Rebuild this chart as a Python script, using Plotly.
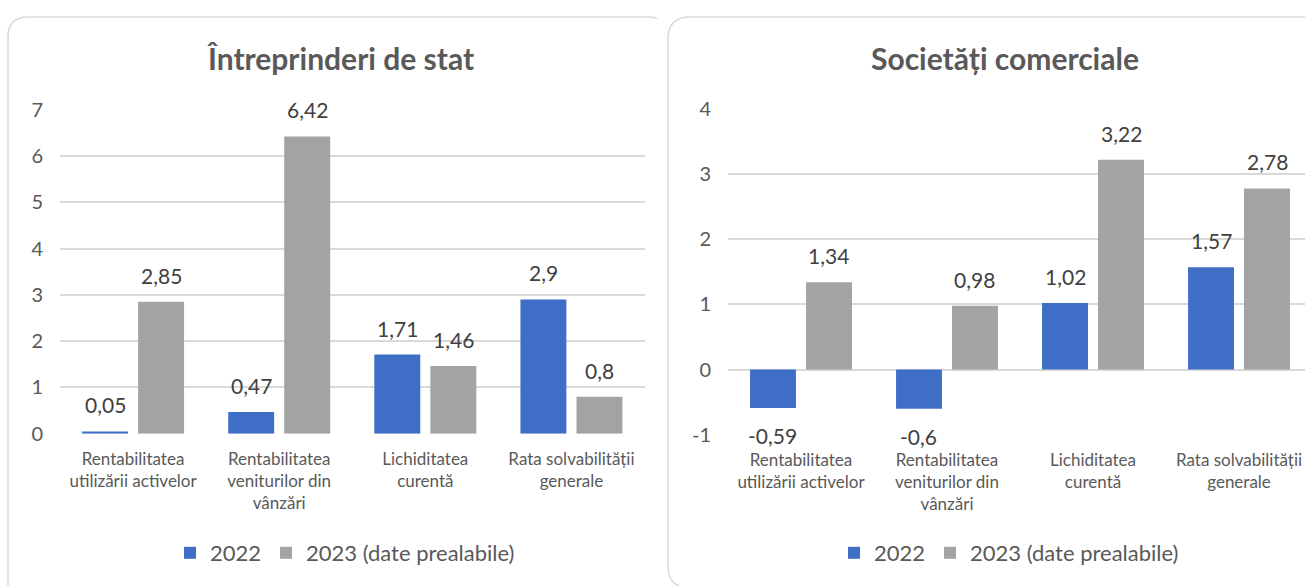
import plotly.graph_objects as go

categories = [
    "Rentabilitatea<br>utilizării activelor",
    "Rentabilitatea<br>veniturilor din<br>vânzări",
    "Lichiditatea<br>curentă",
    "Rata solvabilității<br>generale",
]
series_names = ["2022", "2023 (date prealabile)"]
stat_2022 = [0.05, 0.47, 1.71, 2.9]
stat_2023 = [2.85, 6.42, 1.46, 0.8]
com_2022 = [-0.59, -0.6, 1.02, 1.57]
com_2023 = [1.34, 0.98, 3.22, 2.78]
titles = ["Întreprinderi de stat", "Societăți comerciale"]
left_ticks = [0, 1, 2, 3, 4, 5, 6, 7]
right_ticks = [-1, 0, 1, 2, 3, 4]

W, H = 1305, 586
FONT = "Lato"
BLUE = "#3F6EC7"
GRAY = "#A3A3A3"
TXT = "#595959"
LBL = "#404040"
GRID = "#D9D9D9"


def px(x):
    return x / W


def py(y):
    return 1 - y / H


fig = go.Figure()

panels = [
    dict(xa="x", ya="y", leg="legend", d1=stat_2022, d2=stat_2023),
    dict(xa="x2", ya="y2", leg="legend2", d1=com_2022, d2=com_2023),
]
for p in panels:
    for name, data, col in [(series_names[0], p["d1"], BLUE), (series_names[1], p["d2"], GRAY)]:
        fig.add_trace(go.Bar(
            x=categories, y=data, name=name, marker=dict(color=col, line=dict(width=0)),
            xaxis=p["xa"], yaxis=p["ya"], legend=p["leg"], hoverinfo="skip",
        ))

annotations = []
for p in panels:
    for data, shift in [(p["d1"], -28), (p["d2"], 28)]:
        for c, v in zip(categories, data):
            annotations.append(dict(
                x=c, y=v, xref=p["xa"], yref=p["ya"], xshift=shift,
                yshift=12 if v >= 0 else -13,
                yanchor="bottom" if v >= 0 else "top",
                text=str(v).replace(".", ","), showarrow=False,
                font=dict(family=FONT, size=21, color=LBL),
            ))

for t, cx in zip(titles, [341, 1005]):
    annotations.append(dict(
        x=px(cx), y=py(58), xref="paper", yref="paper", text="<b>" + t + "</b>",
        showarrow=False, xanchor="center", yanchor="middle",
        font=dict(family=FONT, size=30, color=TXT),
    ))

# panel borders
left_path = (f"M {px(8)},{py(600)} L {px(8)},{py(37)} Q {px(8)},{py(17)} {px(28)},{py(17)} "
             f"L {px(650)},{py(17)} Q {px(655)},{py(17)} {px(657)},{py(19)}")
right_path = (f"M {px(690)},{py(588)} Q {px(668)},{py(588)} {px(668)},{py(566)} "
              f"L {px(668)},{py(39)} Q {px(668)},{py(17)} {px(690)},{py(17)} L {px(1310)},{py(17)}")
shapes = [
    dict(type="path", xref="paper", yref="paper", path=left_path, line=dict(color=GRID, width=1.5)),
    dict(type="path", xref="paper", yref="paper", path=right_path, line=dict(color=GRID, width=1.5)),
]

xcommon = dict(showgrid=False, showline=False, zeroline=False, ticks="",
               tickfont=dict(family=FONT, size=17, color=TXT), ticklabelstandoff=13,
               fixedrange=True, automargin=False)
ycommon = dict(showgrid=True, gridcolor=GRID, gridwidth=1.5, zeroline=False, showline=False,
               ticks="", tickfont=dict(family=FONT, size=20, color=TXT), ticklabelstandoff=16,
               fixedrange=True, automargin=False, tickmode="array")

fig.update_layout(
    width=W, height=H, autosize=False,
    margin=dict(l=0, r=0, t=0, b=0, pad=0, autoexpand=False),
    paper_bgcolor="white", plot_bgcolor="white",
    barmode="group", bargap=0.233, bargroupgap=0.18,
    xaxis=dict(domain=[px(60), px(644.5)], range=[-0.5, 3.5], **xcommon),
    xaxis2=dict(domain=[px(728), 1.0], range=[-0.5, 3.452], anchor="y2", **xcommon),
    yaxis=dict(domain=[py(433.7), py(109.6)], range=[0, 7.0], tickvals=left_ticks,
               ticktext=[str(t) for t in left_ticks], anchor="x", **ycommon),
    yaxis2=dict(domain=[py(434.7), py(109)], range=[-1, 4.0], tickvals=right_ticks,
                ticktext=[str(t) for t in right_ticks], anchor="x2", **ycommon),
    legend=dict(orientation="h", x=px(345), y=py(553), xanchor="center", yanchor="middle",
                font=dict(family=FONT, size=22, color=TXT), bgcolor="rgba(0,0,0,0)"),
    legend2=dict(orientation="h", x=px(1009), y=py(553), xanchor="center", yanchor="middle",
                 font=dict(family=FONT, size=22, color=TXT), bgcolor="rgba(0,0,0,0)"),
    annotations=annotations,
    shapes=shapes,
    showlegend=True,
)

fig.write_html(
    "out.html",
    config={"displayModeBar": False},
    post_script="document.body.style.margin='0';document.body.style.overflow='hidden';",
)
